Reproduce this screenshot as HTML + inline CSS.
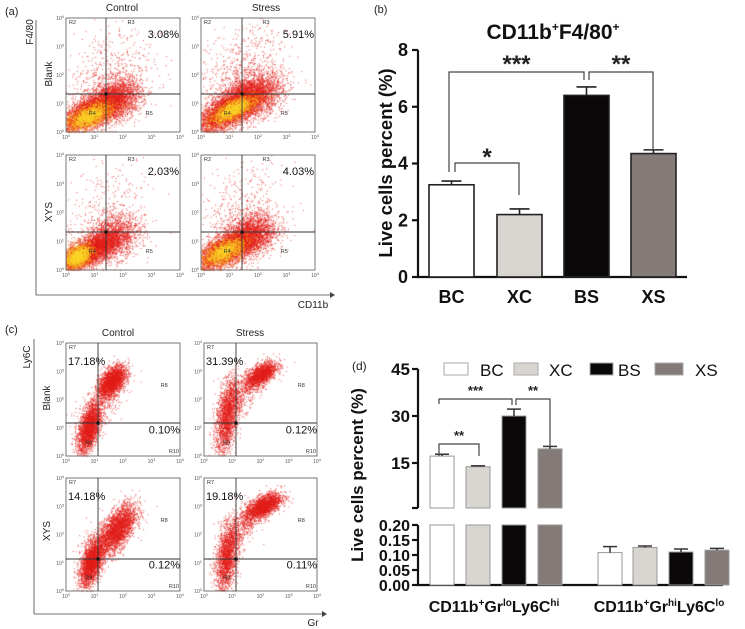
<!DOCTYPE html>
<html><head><meta charset="utf-8">
<style>
html,body{margin:0;padding:0;background:#fff;}
#wrap{position:relative;width:745px;height:629px;overflow:hidden;font-family:"Liberation Sans",Arial,sans-serif;}
canvas,svg{position:absolute;left:0;top:0;}
</style></head>
<body>
<div id="wrap">
<canvas id="cv" width="745" height="629"></canvas>
<svg id="sv" width="745" height="629" xmlns="http://www.w3.org/2000/svg"></svg>
</div>
<script>
// ---------- Panel (b) data ----------
const bCats = ["BC","XC","BS","XS"];
const bVals = [3.25, 2.2, 6.4, 4.35];
const bErr  = [3.38, 2.4, 6.7, 4.48];
const bTicks = [0,2,4,6,8];
// ---------- Panel (d) data ----------
const dGroups = ["hi","lo"];
const dG1Vals = [17.2, 13.8, 30.0, 19.5];
const dG1Err  = [17.8, 14.1, 32.2, 20.3];
const dG2Vals = [0.108, 0.125, 0.110, 0.116];
const dG2Err  = [0.128, 0.130, 0.120, 0.122];
const dTopTicks = [15,30,45];
const dLowTicks = [0,0.05,0.10,0.15,0.20];

const fills = ["#ffffff","#d9d6d2","#0a0808","#847a77"];
const NS="http://www.w3.org/2000/svg";
const sv=document.getElementById('sv');
function mk(tag,attrs,parent,txt){const e=document.createElementNS(NS,tag);for(const k in attrs)e.setAttribute(k,attrs[k]);if(txt!==undefined)e.textContent=txt;(parent||sv).appendChild(e);return e;}
function line(x1,y1,x2,y2,w,c,p){return mk('line',{x1,y1,x2,y2,stroke:c||'#222','stroke-width':w||1},p);}

// ================= Panel (b) =================
const gb=mk('g',{});


const byS=v=>277-v*(227/8);
const bX0=[429,497,564,631], bW=45;
const bl=mk('text',{x:374,y:13,'font-size':11,fill:'#222'},gb,'(b)');

const bt=mk('text',{x:553,y:39,'font-size':21,'font-weight':'bold','text-anchor':'middle',fill:'#111'},gb);

bt.innerHTML='CD11b<tspan dy="-8" font-size="12">+</tspan><tspan dy="8">F4/80</tspan><tspan dy="-8" font-size="12">+</tspan>';
line(418,50,418,277,2.2,'#111',gb);
line(417,277,687,277,2.2,'#111',gb);
bTicks.forEach(t=>{const y=byS(t);line(412,y,418,y,2.2,'#111',gb);
 const tx=mk('text',{x:408,y:y+6,'font-size':18,'font-weight':'bold','text-anchor':'end',fill:'#111'},gb,String(t));
 });
const byt=mk('text',{x:0,y:0,'font-size':18.5,'font-weight':'bold','text-anchor':'middle',fill:'#111',transform:'translate(392,163) rotate(-90)'},gb,'Live cells percent (%)');

bCats.forEach((c,i)=>{
 const x=bX0[i], cx=x+bW/2;
 const r=mk('rect',{x,y:byS(bVals[i]),width:bW,height:277-byS(bVals[i]),fill:fills[i],stroke:'#222','stroke-width':1.6},gb);
 
 line(cx,byS(bVals[i]),cx,byS(bErr[i]),1.6,'#222',gb);
 line(cx-10,byS(bErr[i]),cx+10,byS(bErr[i]),1.6,'#222',gb);
 const t=mk('text',{x:cx,y:303,'font-size':18,'font-weight':'bold','text-anchor':'middle',fill:'#111'},gb,c);
 
});
function bracket(g,x1,y1,x2,y2,top,stars,fs,sy){
 const p=mk('path',{d:`M${x1},${y1} L${x1},${top} L${x2},${top} L${x2},${y2}`,fill:'none',stroke:'#444','stroke-width':1.2},g);
 
 const t=mk('text',{x:(x1+x2)/2,y:sy,'font-size':fs,'font-weight':'bold','text-anchor':'middle',fill:'#222'},g,stars);
 
}
bracket(gb,449,172,584,80,72,'***',24,72);
bracket(gb,589,80,653,150,72,'**',24,72);
bracket(gb,455,172,519,195,163,'*',24,165);

// ================= Panel (d) =================
const gd=mk('g',{});


const dl=mk('text',{x:352,y:370,'font-size':12,fill:'#222'},gd,'(d)');

const dyTop=v=>510-v*(94/30);
const dyLow=v=>585-v*(60/0.2);
line(418,369,418,508,2.2,'#111',gd);
line(412,508,418,508,2.2,'#111',gd);
line(418,525,418,585,2.2,'#111',gd);
line(417,585,723,585,2.2,'#111',gd);
dTopTicks.forEach(t=>{const y=dyTop(t);line(412,y,418,y,2.2,'#111',gd);
 const tx=mk('text',{x:410,y:y+6,'font-size':17,'font-weight':'bold','text-anchor':'end',fill:'#111'},gd,String(t));
 });
dLowTicks.forEach(t=>{const y=dyLow(t);line(412,y,418,y,2.2,'#111',gd);
 const tx=mk('text',{x:410,y:y+6,'font-size':16,'font-weight':'bold','text-anchor':'end',fill:'#111'},gd,t.toFixed(2));
 });
const dyt=mk('text',{x:0,y:0,'font-size':17,'font-weight':'bold','text-anchor':'middle',fill:'#111',transform:'translate(363,475) rotate(-90)'},gd,'Live cells percent (%)');

const d1X=[430,466,502,538], d2X=[598,633,669,705], dW=24;
bCats.forEach((c,i)=>{
 const x=d1X[i], cx=x+dW/2;
 const r1=mk('rect',{x,y:dyTop(dG1Vals[i]),width:dW,height:508-dyTop(dG1Vals[i]),fill:fills[i],stroke:'#999','stroke-width':1},gd);
 
 const r1b=mk('rect',{x,y:525,width:dW,height:60,fill:fills[i],stroke:'#999','stroke-width':1},gd);
 
 line(cx,dyTop(dG1Vals[i]),cx,dyTop(dG1Err[i]),1.5,'#333',gd);
 line(cx-7,dyTop(dG1Err[i]),cx+7,dyTop(dG1Err[i]),1.5,'#333',gd);
 const x2=d2X[i], cx2=x2+dW/2;
 const r2=mk('rect',{x:x2,y:dyLow(dG2Vals[i]),width:dW,height:585-dyLow(dG2Vals[i]),fill:fills[i],stroke:'#999','stroke-width':1},gd);
 
 line(cx2,dyLow(dG2Vals[i]),cx2,dyLow(dG2Err[i]),1.5,'#333',gd);
 line(cx2-7,dyLow(dG2Err[i]),cx2+7,dyLow(dG2Err[i]),1.5,'#333',gd);
});
bracket(gd,439,404,512,405,399,'***',13,395);
bracket(gd,516,405,550,447,399,'**',13,395);
bracket(gd,439,456,479,456,444,'**',13,440);
const xl1=mk('text',{x:494,y:612,'font-size':16,'font-weight':'bold','text-anchor':'middle',fill:'#111'},gd);

xl1.innerHTML='CD11b<tspan dy="-6" font-size="10">+</tspan><tspan dy="6">Gr</tspan><tspan dy="-6" font-size="10">lo</tspan><tspan dy="6">Ly6C</tspan><tspan dy="-6" font-size="10">hi</tspan>';
const xl2=mk('text',{x:659,y:612,'font-size':16,'font-weight':'bold','text-anchor':'middle',fill:'#111'},gd);

xl2.innerHTML='CD11b<tspan dy="-6" font-size="10">+</tspan><tspan dy="6">Gr</tspan><tspan dy="-6" font-size="10">hi</tspan><tspan dy="6">Ly6C</tspan><tspan dy="-6" font-size="10">lo</tspan>';
const legX=[444,514,590,655], legTX=[480,549,618,695], legW=[24,24,23,28];
bCats.forEach((c,i)=>{
 const r=mk('rect',{x:legX[i],y:363,width:legW[i],height:12,fill:fills[i],stroke:'#aaa','stroke-width':1},gd);
 
 const t=mk('text',{x:legTX[i],y:376,'font-size':17,'text-anchor':'start',fill:'#111'},gd,c);
 
});

// ================= Flow panels (a) & (c) =================
const flows=[
 {x:66,y:18,w:114,h:114,gx:106,gy:94,pct:'3.08%',pos:'tr',q:['R2','R3','R4','R5'],cl:[[.22,.18,.14,.09,.7,4500],[.42,.28,.12,.1,.3,2200],[.35,.5,.2,.22,.3,500]],core:[.2,.14,.08,.05,.6,900]},
 {x:201,y:18,w:114,h:114,gx:242,gy:94,pct:'5.91%',pos:'tr',q:['R2','R3','R4','R5'],cl:[[.25,.2,.14,.1,.7,5000],[.45,.32,.13,.1,.3,2500],[.35,.5,.2,.22,.3,700]],core:[.28,.2,.08,.05,.7,900]},
 {x:66,y:155,w:114,h:115,gx:106,gy:232,pct:'2.03%',pos:'tr',q:['R2','R3','R4','R5'],cl:[[.18,.15,.13,.08,.7,4500],[.4,.28,.12,.1,.3,1800],[.35,.5,.2,.22,.3,350]],core:[.1,.12,.05,.04,.4,900]},
 {x:201,y:155,w:114,h:115,gx:242,gy:232,pct:'4.03%',pos:'tr',q:['R2','R3','R4','R5'],cl:[[.22,.18,.14,.09,.7,4500],[.42,.3,.12,.1,.3,2200],[.35,.5,.2,.22,.3,450]],core:[.2,.16,.08,.05,.6,800]},
 {x:66,y:343,w:114,h:113,gx:98,gy:423,pct:'17.18%',pct2:'0.10%',q:['R7','R8','R9','R10'],cl:[[.2,.25,.05,.11,.5,2500],[.4,.66,.06,.07,.5,2500],[.3,.45,.1,.1,.5,300]],core:null},
 {x:204,y:343,w:113,h:113,gx:236,gy:423,pct:'31.39%',pct2:'0.12%',q:['R7','R8','R9','R10'],cl:[[.2,.35,.05,.16,.4,2000],[.5,.72,.07,.06,.6,1800],[.32,.55,.08,.1,.5,400]],core:null},
 {x:66,y:478,w:114,h:113,gx:98,gy:559,pct:'14.18%',pct2:'0.12%',q:['R7','R8','R9','R10'],cl:[[.22,.25,.05,.1,.5,2500],[.45,.55,.08,.11,.6,2700],[.3,.45,.1,.1,.5,300]],core:null},
 {x:204,y:478,w:113,h:113,gx:236,gy:559,pct:'19.18%',pct2:'0.11%',q:['R7','R8','R9','R10'],cl:[[.2,.3,.05,.15,.4,2000],[.52,.75,.08,.06,.6,2200],[.32,.55,.08,.1,.5,400]],core:null}
];
const ctx=document.getElementById('cv').getContext('2d');
let seed=12345;function rnd(){seed=(seed*1103515245+12345)%2147483648;return seed/2147483648;}
function gau(){let u=rnd()||1e-6,v=rnd();return Math.sqrt(-2*Math.log(u))*Math.cos(2*Math.PI*v);}
function scatter(f,c,col){
 const [cx,cy,sx,sy,rho,n]=c;ctx.fillStyle=col;
 for(let k=0;k<n;k++){const z1=gau(),z2=gau();let fx=cx+sx*z1,fy=cy+sy*(rho*z1+Math.sqrt(1-rho*rho)*z2);
  if(fx<0||fx>1||fy<0||fy>1)continue;ctx.fillRect(f.x+fx*f.w,f.y+f.h-fy*f.h,1,1);}
}
flows.forEach((f,i)=>{
 f.cl.forEach(c=>scatter(f,c,'rgba(225,30,25,0.75)'));
 if(f.core){scatter(f,[f.core[0],f.core[1],f.core[2]*1.5,f.core[3]*1.5,f.core[4],f.core[5]],'rgba(245,130,20,0.8)');scatter(f,f.core,'rgba(250,215,40,0.8)');}
 const g=mk('g',{});
 mk('rect',{x:f.x,y:f.y,width:f.w,height:f.h,fill:'none',stroke:'#555','stroke-width':0.8},g);
 line(f.gx,f.y,f.gx,f.y+f.h,0.9,'#333',g);
 line(f.x,f.gy,f.x+f.w,f.gy,0.9,'#333',g);
 mk('rect',{x:f.gx-1.5,y:f.gy-1.5,width:3,height:3,fill:'#111'},g);
 for(let t=0;t<=4;t++){
  const tx=f.x+t*f.w/4, ty=f.y+f.h-t*f.h/4;
  const a=mk('text',{x:tx,y:f.y+f.h+7,'font-size':5,'text-anchor':'middle',fill:'#555'},g);a.innerHTML='10<tspan dy="-2" font-size="4">'+t+'</tspan>';
  const b=mk('text',{x:f.x-2,y:ty+2,'font-size':5,'text-anchor':'end',fill:'#555'},g);b.innerHTML='10<tspan dy="-2" font-size="4">'+t+'</tspan>';
 }
 mk('text',{x:f.x+3,y:f.y+6,'font-size':5.5,fill:'#333'},g,f.q[0]);
 if(i<4){
  mk('text',{x:f.x+f.w*0.54,y:f.y+6,'font-size':5.5,fill:'#333'},g,f.q[1]);
  mk('text',{x:f.x+f.w*0.2,y:f.y+f.h*0.85,'font-size':5.5,fill:'#333'},g,f.q[2]);
  mk('text',{x:f.x+f.w*0.7,y:f.y+f.h*0.85,'font-size':5.5,fill:'#333'},g,f.q[3]);
  const p=mk('text',{x:f.x+f.w-1,y:f.y+20,'font-size':11,'text-anchor':'end',fill:'#111'},g,f.pct);
  
 }else{
  mk('text',{x:f.x+f.w*0.83,y:f.y+f.h*0.39,'font-size':5.5,fill:'#333'},g,f.q[1]);
  mk('text',{x:f.x+f.w*0.17,y:f.y+f.h*0.9,'font-size':5.5,fill:'#333'},g,f.q[2]);
  mk('text',{x:f.x+f.w-1,y:f.y+f.h-3,'font-size':5.5,'text-anchor':'end',fill:'#333'},g,f.q[3]);
  const p=mk('text',{x:f.x+2,y:f.y+22,'font-size':11,fill:'#111'},g,f.pct);
  
  const p2=mk('text',{x:f.x+f.w,y:f.y+f.h*0.8,'font-size':11,'text-anchor':'end',fill:'#111'},g,f.pct2);
  
 }
});
function lbl(x,y,s,fs,name,rot,anchor){const a={x:rot?0:x,y:rot?0:y,'font-size':fs,fill:'#222','text-anchor':anchor||'start'};if(rot)a.transform=`translate(${x},${y}) rotate(-90)`;const t=mk('text',a,sv,s);return t;}
lbl(5,15,'(a)',11,'panel-a-label');
lbl(122,11,'Control',10,'a-col-control',0,'middle');
lbl(266,11,'Stress',10,'a-col-stress',0,'middle');
lbl(33,32,'F4/80',10,'a-y-axis-title',1,'middle');
lbl(52,74,'Blank',10,'a-row-blank',1,'middle');
lbl(52,212,'XYS',10,'a-row-xys',1,'middle');
lbl(313,308,'CD11b',10,'a-x-axis-title',0,'middle');
line(36,20,36,295,0.8,'#444');line(36,295,330,295,0.8,'#444');
mk('path',{d:'M330,292 L335,295 L330,298 Z',fill:'#444'});
lbl(5,333,'(c)',11,'panel-c-label');
lbl(118,336,'Control',10,'c-col-control',0,'middle');
lbl(250,336,'Stress',10,'c-col-stress',0,'middle');
lbl(30,357,'Ly6C',10,'c-y-axis-title',1,'middle');
lbl(50,398,'Blank',10,'c-row-blank',1,'middle');
lbl(50,531,'XYS',10,'c-row-xys',1,'middle');
lbl(313,629-3,'Gr',10,'c-x-axis-title',0,'middle');
line(34,339,34,614,0.8,'#444');line(34,614,322,614,0.8,'#444');
mk('path',{d:'M322,611 L327,614 L322,617 Z',fill:'#444'});
</script>
</body></html>
